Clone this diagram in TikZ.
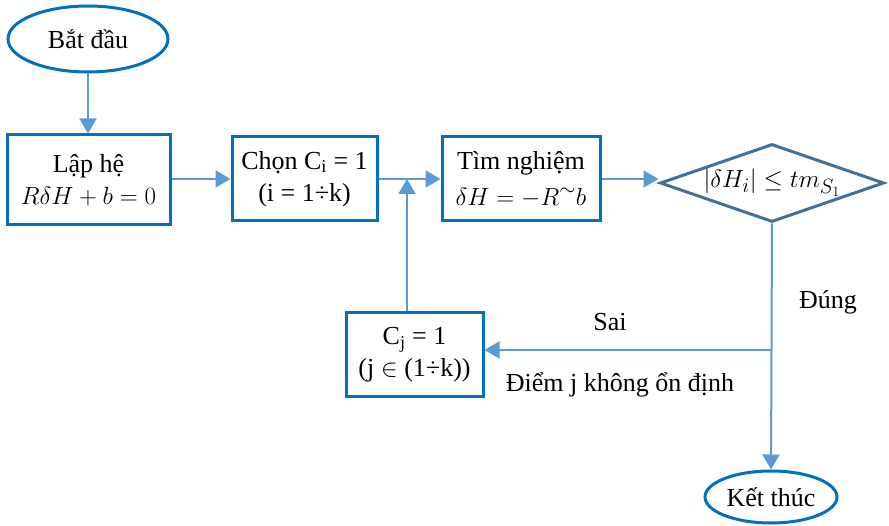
\documentclass[tikz,border=0pt]{standalone}
\usepackage{fontspec}
\setmainfont{Liberation Serif}
\usetikzlibrary{shapes.geometric,arrows.meta}
\definecolor{boxblue}{HTML}{0070C0}
\definecolor{arrowblue}{HTML}{5B9BD5}
\definecolor{diablue}{HTML}{41719C}
\newcommand{\bigmath}[1]{{\fontsize{28}{32}\selectfont$#1$}}
\begin{document}
\begin{tikzpicture}[x=1pt,y=-1pt,
 every node/.style={font=\fontsize{26}{32}\selectfont, align=center, inner sep=0pt},
 procbox/.style={draw=boxblue, line width=3pt, rectangle},
 terminal/.style={draw=boxblue, line width=3pt, ellipse},
 decision/.style={draw=diablue, line width=3pt, diamond, aspect=2.9},
 conn/.style={draw=arrowblue, line width=2pt, -{Triangle[length=15pt,width=17pt]}}]
\useasboundingbox (0,0) rectangle (889,526);

\node[terminal, minimum width=160pt, minimum height=66pt] (start) at (88,39) {Bắt đầu};
\node[procbox, minimum width=163pt, minimum height=90pt] (lap) at (88.5,180) {Lập hệ\\\bigmath{R\delta H + b = 0}};
\node[procbox, minimum width=145pt, minimum height=84pt] (chon) at (304.5,179) {Chọn C\textsubscript{i} = 1\\(i = 1÷k)};
\node[procbox, minimum width=158pt, minimum height=84pt] (tim) at (521,179) {Tìm nghiệm\\[4pt]\bigmath{\delta H = -R^{\sim} b}};
\node[decision, minimum width=224pt, minimum height=78pt] (dec) at (772,183) {\bigmath{|\delta H_i| \le tm_{S_1}}};
\node[procbox, minimum width=137pt, minimum height=84pt] (cj) at (414.5,355) {C\textsubscript{j} = 1\\($\mathrm{j} \in$ (1÷k))};
\node[terminal, minimum width=132pt, minimum height=52pt] (end) at (771,497) {Kết thúc};

\node (sai) at (610,322) {Sai};
\node (dung) at (828,302) {Đúng};
\node (diem) at (620,385) {Điểm j không ổn định};

\coordinate (j1) at (407,179);
\coordinate (j2) at (dec.south |- 0,350);

\draw[conn] (start.south) -- (start.south |- lap.north);
\draw[conn] (lap.east |- chon.east) -- (chon.west);
\draw[conn] (chon.east) -- (tim.west);
\draw[conn] (tim.east) -- (tim.east -| dec.west);
\draw[conn] (dec.south) -- (end.north);
\draw[conn] (j2) -- (j2 -| cj.east);
\draw[conn] (j1 |- cj.north) -- (j1);
\end{tikzpicture}
\end{document}
